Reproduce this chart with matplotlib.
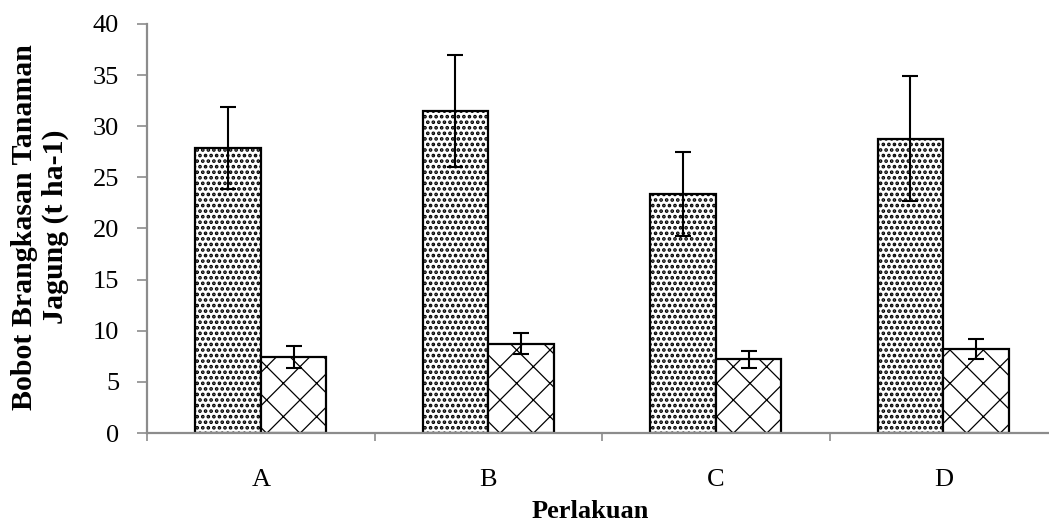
import matplotlib
matplotlib.use("Agg")
import matplotlib.pyplot as plt
import numpy as np

categories = ["A", "B", "C", "D"]
series1 = [27.9, 31.5, 23.4, 28.8]
series1_err = [4.0, 5.5, 4.1, 6.1]
series2 = [7.45, 8.75, 7.2, 8.2]
series2_err = [1.1, 1.0, 0.8, 1.0]
yticks = [0, 5, 10, 15, 20, 25, 30, 35, 40]

plt.rcParams['font.family'] = ['Liberation Serif', 'DejaVu Serif']
plt.rcParams['hatch.color'] = 'black'

fig = plt.figure(figsize=(10.49, 5.26), dpi=100)
ax = fig.add_axes([147/1049, 1-433/526, (1057-147)/1049, (433-24)/526])

x = np.arange(len(categories))
w = 0.288
plt.rcParams['hatch.linewidth'] = 1.8
ax.bar(x - w/2, series1, width=w, color='white', edgecolor='black', linewidth=1.6,
       hatch='...', zorder=2)
plt.rcParams['hatch.linewidth'] = 0.9
ax.bar(x + w/2, series2, width=w, color='white', edgecolor='black', linewidth=1.6,
       hatch='x', zorder=2)
ax.errorbar(x - w/2, series1, yerr=series1_err, fmt='none', ecolor='black',
            elinewidth=1.5, capsize=5.5, capthick=1.5, zorder=3)
ax.errorbar(x + w/2, series2, yerr=series2_err, fmt='none', ecolor='black',
            elinewidth=1.5, capsize=5.5, capthick=1.5, zorder=3)

ax.set_xlim(-0.5, len(categories) - 0.5)
ax.set_ylim(0, 40)
ax.set_yticks(yticks)
ax.set_yticklabels([str(v) for v in yticks], fontsize=19)
ax.set_xticks(x)
ax.set_xticklabels(categories, fontsize=19)
ax.set_xticks(np.arange(len(categories)+1) - 0.5, minor=True)

for s in ['top', 'right']:
    ax.spines[s].set_visible(False)
for s in ['left', 'bottom']:
    ax.spines[s].set_color('#8c8c8c')
    ax.spines[s].set_linewidth(1.6)
    ax.spines[s].set_zorder(4)

ax.tick_params(axis='y', direction='out', length=7, width=1.2, color='#8c8c8c', pad=13)
ax.tick_params(axis='x', which='major', length=0, pad=26)
ax.tick_params(axis='x', which='minor', direction='out', length=6, width=1.2, color='#8c8c8c')

fig.text(590/1049, 1-512/526, "Perlakuan", ha='center', va='center', fontsize=19,
         fontweight='bold')
fig.text(40/1049, 1-227/526, "Bobot Brangkasan Tanaman\nJagung (t ha-1)", ha='center',
         va='center', rotation=90, fontsize=21.5, fontweight='bold', linespacing=1.15)

fig.savefig("out.png", dpi=100)
